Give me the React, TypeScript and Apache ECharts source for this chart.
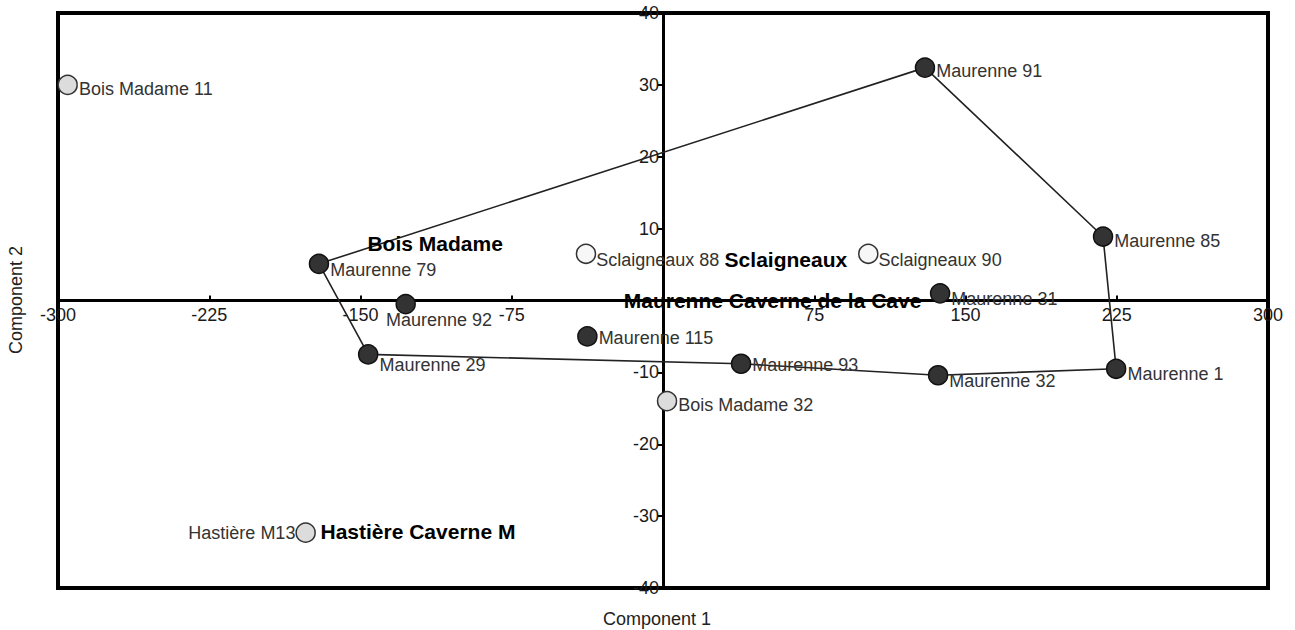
import React, { useEffect, useRef } from "react";
import * as echarts from "echarts";

// ---- data ----
const xTicks = [-300, -225, -150, -75, 0, 75, 150, 225, 300];
const yTicks = [-40, -30, -20, -10, 0, 10, 20, 30, 40];

const maurNames = ["Maurenne 91", "Maurenne 85", "Maurenne 79", "Maurenne 92", "Maurenne 31", "Maurenne 115", "Maurenne 29", "Maurenne 93", "Maurenne 32", "Maurenne 1"];
const maurX = [129.9, 218.2, -170.6, -127.6, 137.4, -37.5, -146.2, 38.7, 136.4, 224.7];
const maurY = [32.4, 8.9, 5.1, -0.5, 1.0, -5.0, -7.5, -8.8, -10.4, -9.5];

const boisNames = ["Bois Madame 11", "Bois Madame 32"];
const boisX = [-295.2, 2.0];
const boisY = [30.0, -14.0];

const sclNames = ["Sclaigneaux 88", "Sclaigneaux 90"];
const sclX = [-38.2, 101.8];
const sclY = [6.5, 6.5];

const hastNames = ["Hastière M13"];
const hastX = [-177.2];
const hastY = [-32.3];

const hullOrder = ["Maurenne 79", "Maurenne 91", "Maurenne 85", "Maurenne 1", "Maurenne 32", "Maurenne 93", "Maurenne 29", "Maurenne 79"];

const groupNames = ["Bois Madame", "Sclaigneaux", "Maurenne Caverne de la Cave", "Hastière Caverne M"];
const groupX = [-146.8, 30.3, -19.7, -170.1];
const groupY = [7.9, 5.7, 0.0, -32.2];

// ---- label styling (per point) ----
const labelTweaks: Record<string, any> = {
  "Bois Madame 11": { offset: [0, 4] },
  "Maurenne 79": { offset: [0, 6] },
  "Maurenne 92": { offset: [-31, 16] },
  "Maurenne 29": { offset: [0, 11] },
  "Sclaigneaux 88": { offset: [-1, 6] },
  "Sclaigneaux 90": { offset: [-1, 6] },
  "Maurenne 31": { offset: [0, 6] },
  "Maurenne 115": { offset: [0, 2] },
  "Maurenne 93": { offset: [0, 1] },
  "Maurenne 32": { offset: [0, 6] },
  "Maurenne 1": { offset: [0, 5] },
  "Bois Madame 32": { offset: [0, 4] },
  "Maurenne 85": { offset: [0, 4] },
  "Maurenne 91": { offset: [0, 3] },
  "Hastière M13": { position: "left", offset: [1, 0] },
};

const FONT = "'Liberation Sans', Arial, Helvetica, sans-serif";

const GRID = { left: 58, right: 27, top: 13, bottom: 42 };
const W = 1295;
const H = 630;

function pts(names: string[], xs: number[], ys: number[]) {
  return names.map((n, i) => {
    const t = labelTweaks[n] || {};
    return {
      name: n,
      value: [xs[i], ys[i]],
      label: { position: t.position || "right", offset: t.offset || [0, 4] },
    };
  });
}

export default function App() {
  const ref = useRef<HTMLDivElement>(null);
  useEffect(() => {
    document.body.style.margin = "0";
    if (!ref.current) return;
    const chart = echarts.init(ref.current, undefined, { renderer: "svg" });

    const lookup: Record<string, number[]> = {};
    maurNames.forEach((n, i) => (lookup[n] = [maurX[i], maurY[i]]));
    const hull = hullOrder.map((n) => lookup[n]);

    const plotW = W - GRID.left - GRID.right;
    const plotH = H - GRID.top - GRID.bottom;

    const pointLabel = {
      show: true,
      formatter: "{b}",
      fontFamily: FONT,
      fontSize: 18,
      color: "#333",
      distance: 1,
    };

    const option: any = {
      animation: false,
      backgroundColor: "#fff",
      grid: {
        ...GRID,
        show: true,
        borderColor: "#000",
        borderWidth: 4,
        containLabel: false,
      },
      xAxis: {
        type: "value",
        min: -300,
        max: 300,
        interval: 75,
        position: "bottom",
        offset: -plotH / 2,
        axisLine: { onZero: false, lineStyle: { color: "#000", width: 3 } },
        axisTick: { show: true, inside: true, length: 5, lineStyle: { color: "#000", width: 2 } },
        axisLabel: {
          fontFamily: FONT,
          fontSize: 18,
          color: "#1a1a1a",
          margin: 5,
          showMinLabel: true,
          showMaxLabel: true,
          formatter: (v: number) => (v === 0 || !xTicks.includes(v) ? "" : String(v)),
        },
        splitLine: { show: false },
      },
      yAxis: {
        type: "value",
        min: -40,
        max: 40,
        interval: 10,
        position: "left",
        offset: -plotW / 2,
        axisLine: { onZero: false, lineStyle: { color: "#000", width: 3 } },
        axisTick: { show: true, inside: false, length: 5, lineStyle: { color: "#000", width: 2 } },
        axisLabel: {
          fontFamily: FONT,
          fontSize: 18,
          color: "#1a1a1a",
          margin: 4,
          showMinLabel: true,
          showMaxLabel: true,
          formatter: (v: number) => (v === 0 || !yTicks.includes(v) ? "" : String(v)),
        },
        splitLine: { show: false },
      },
      graphic: [
        {
          type: "text",
          x: 657,
          y: 619,
          style: {
            text: "Component 1",
            fontFamily: FONT,
            fontSize: 18,
            fill: "#222",
            align: "center",
            verticalAlign: "middle",
          },
        },
        {
          type: "text",
          x: 16,
          y: 300,
          rotation: Math.PI / 2,
          style: {
            text: "Component 2",
            fontFamily: FONT,
            fontSize: 18,
            fill: "#222",
            align: "center",
            verticalAlign: "middle",
          },
        },
      ],
      series: [
        {
          type: "line",
          data: hull,
          symbol: "none",
          lineStyle: { color: "#222", width: 1.6 },
          z: 2,
          silent: true,
        },
        {
          type: "scatter",
          data: pts(maurNames, maurX, maurY),
          symbolSize: 19,
          itemStyle: { color: "#333", borderColor: "#111", borderWidth: 1.5, opacity: 1 },
          label: pointLabel,
          z: 5,
        },
        {
          type: "scatter",
          data: pts(boisNames, boisX, boisY),
          symbolSize: 19,
          itemStyle: { color: "#dcdcdc", borderColor: "#333", borderWidth: 1.5, opacity: 1 },
          label: pointLabel,
          z: 5,
        },
        {
          type: "scatter",
          data: pts(sclNames, sclX, sclY),
          symbolSize: 19,
          itemStyle: { color: "#f7f7f7", borderColor: "#333", borderWidth: 1.5, opacity: 1 },
          label: pointLabel,
          z: 5,
        },
        {
          type: "scatter",
          data: pts(hastNames, hastX, hastY),
          symbolSize: 19,
          itemStyle: { color: "#dcdcdc", borderColor: "#333", borderWidth: 1.5, opacity: 1 },
          label: pointLabel,
          z: 5,
        },
        {
          type: "scatter",
          data: groupNames.map((n, i) => ({ name: n, value: [groupX[i], groupY[i]] })),
          symbolSize: 1,
          itemStyle: { color: "rgba(0,0,0,0)", borderWidth: 0 },
          label: {
            show: true,
            formatter: "{b}",
            position: "right",
            distance: 0,
            fontFamily: FONT,
            fontSize: 21,
            fontWeight: "bold",
            color: "#000",
            opacity: 1,
          },
          labelLayout: { hideOverlap: false },
          z: 6,
          silent: true,
        },
      ],
    };
    chart.setOption(option);
    return () => chart.dispose();
  }, []);
  return <div ref={ref} style={{ width: W, height: H }} />;
}
